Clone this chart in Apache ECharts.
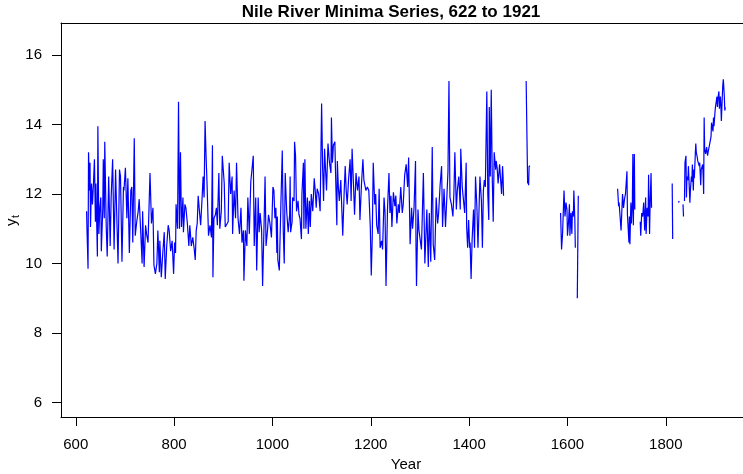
<!DOCTYPE html>
<html lang="en">
<head>
<meta charset="UTF-8">
<title>Nile River Minima Series, 622 to 1921</title>
<script src="https://cdn.jsdelivr.net/npm/echarts@6.0.0/dist/echarts.min.js"></script>
<style>
  html, body { margin: 0; padding: 0; background: #fff; }
  #main { width: 743px; height: 474px; }
</style>
</head>
<body>
<div id="main"></div>
<script>
// [year, minimum level], one array per unbroken stretch of record
var minima622 = [
  [622, 11.5], [623, 10.9], [625, 9.85], [626, 13.2], [628, 12.1], [629, 12.9], [630, 11.05], [632, 12.3],
  [634, 11.7], [636, 12.3], [638, 13.0], [640, 11.2], [641, 12.3], [644, 10.2], [645, 13.95], [647, 10.85],
  [649, 11.6], [651, 11.9], [652, 10.35], [655, 11.6], [656, 13.0], [658, 11.3], [659, 13.5], [662, 11.05],
  [664, 10.2], [667, 12.5], [670, 10.5], [672, 11.9], [675, 13.0], [678, 10.4], [681, 12.7], [683, 11.6],
  [686, 10.0], [689, 12.7], [691, 12.5], [694, 10.05], [697, 12.2], [698, 12.1], [701, 12.75], [704, 11.3],
  [706, 12.45], [709, 10.3], [712, 12.1], [714, 12.2], [716, 10.6], [719, 13.6], [721, 10.8], [724, 11.2],
  [727, 11.5], [729, 11.85], [732, 10.95], [735, 10.0], [736, 11.5], [739, 9.9], [742, 11.1], [744, 10.85],
  [747, 10.6], [751, 12.6], [754, 11.15], [757, 11.6], [759, 9.95], [762, 9.7], [765, 10.0], [767, 10.95],
  [770, 9.75], [771, 10.65], [774, 9.6], [777, 10.3], [780, 10.9], [782, 9.55], [785, 10.5], [788, 11.1],
  [790, 10.95], [793, 10.35], [796, 10.65], [799, 9.7], [801, 10.6], [803, 10.3], [804, 11.7], [807, 11.0],
  [809, 14.65], [811, 11.0], [813, 13.2], [815, 11.05], [818, 11.9], [819, 10.9], [822, 11.7], [824, 11.6],
  [827, 11.15], [830, 10.5], [832, 11.1], [835, 10.5], [838, 10.75], [841, 10.4], [843, 10.1], [845, 10.95],
  [847, 11.15], [849, 11.95], [851, 11.6], [854, 11.1], [857, 11.9], [859, 12.5], [861, 11.9], [863, 14.1],
  [865, 13.1], [867, 12.3], [869, 11.3], [870, 10.8], [873, 11.1], [876, 10.75], [878, 13.4], [879, 9.6],
  [881, 11.3], [884, 11.4], [886, 11.6], [888, 11.1], [891, 12.6], [893, 11.0], [896, 11.5], [898, 13.1],
  [900, 13.1], [902, 12.3], [904, 11.05], [907, 11.0], [910, 11.2], [912, 12.9], [915, 12.0], [918, 12.5],
  [919, 10.85], [922, 12.1], [925, 11.3], [927, 12.9], [930, 11.3], [933, 10.85], [936, 11.6], [938, 10.6],
  [941, 10.95], [942, 9.5], [945, 10.95], [948, 10.5], [950, 11.9], [953, 10.85], [956, 12.35], [959, 12.4],
  [961, 13.1], [963, 10.5], [966, 11.9], [968, 9.8], [971, 11.9], [973, 10.9], [975, 11.45], [978, 10.95],
  [980, 9.35], [983, 11.15], [985, 12.5], [987, 10.5], [990, 10.95], [992, 11.4], [995, 11.15], [998, 10.75],
  [1001, 12.2], [1003, 12.1], [1005, 11.3], [1007, 11.6], [1009, 10.3], [1010, 11.35], [1011, 10.1], [1014, 9.8],
  [1017, 11.6], [1020, 13.25], [1022, 10.95], [1024, 10.0], [1026, 12.6], [1029, 11.5], [1032, 10.9], [1035, 11.4],
  [1036, 12.5], [1037, 10.9], [1040, 11.2], [1041, 11.9], [1044, 11.8], [1045, 13.5], [1047, 13.1], [1049, 11.5],
  [1052, 11.8], [1054, 11.4], [1056, 11.3], [1059, 10.7], [1060, 12.0], [1063, 12.9], [1064, 11.0], [1066, 13.0],
  [1068, 11.0], [1071, 11.9], [1073, 10.85], [1075, 11.8], [1077, 11.05], [1079, 12.0], [1082, 11.5], [1085, 12.45],
  [1087, 12.1], [1089, 11.6], [1091, 12.15], [1094, 12.0], [1097, 11.5], [1100, 14.6], [1102, 12.8], [1104, 11.8],
  [1106, 13.3], [1108, 12.7], [1110, 12.1], [1113, 13.45], [1116, 12.9], [1119, 12.6], [1120, 14.2], [1122, 12.9],
  [1124, 13.4], [1127, 13.5], [1128, 12.8], [1131, 11.1], [1132, 12.95], [1134, 12.2], [1136, 11.8], [1139, 12.4],
  [1141, 11.6], [1143, 10.8], [1146, 12.1], [1148, 12.8], [1150, 12.1], [1152, 11.7], [1155, 12.45], [1158, 13.0],
  [1160, 11.8], [1162, 13.3], [1165, 12.2], [1167, 11.4], [1170, 12.6], [1173, 12.1], [1176, 12.5], [1178, 11.25],
  [1181, 12.25], [1184, 13.0], [1186, 12.4], [1188, 12.25], [1190, 12.1], [1193, 12.2], [1196, 12.1], [1199, 11.05],
  [1201, 9.65], [1203, 10.75], [1205, 12.9], [1208, 11.7], [1210, 12.0], [1212, 11.1], [1215, 10.85], [1217, 12.15],
  [1219, 10.45], [1222, 10.65], [1224, 10.4], [1227, 11.9], [1229, 11.45], [1231, 9.35], [1234, 11.55], [1237, 12.6],
  [1239, 11.45], [1241, 11.95], [1243, 11.05], [1246, 12.05], [1249, 11.65], [1251, 11.95], [1253, 11.15], [1256, 11.7],
  [1258, 11.45], [1261, 12.2], [1264, 11.45], [1266, 11.7], [1269, 12.55], [1272, 12.85], [1275, 12.2], [1277, 13.05],
  [1280, 10.55], [1283, 11.6], [1285, 11.0], [1288, 11.6], [1291, 12.95], [1292, 10.45], [1293, 9.35], [1296, 11.55],
  [1298, 10.95], [1303, 10.4], [1307, 12.6], [1310, 10.0], [1314, 11.55], [1317, 9.9], [1319, 11.45], [1322, 10.05],
  [1325, 13.35], [1327, 10.55], [1330, 10.1], [1333, 11.9], [1336, 11.15], [1338, 11.45], [1341, 12.25], [1344, 12.8],
  [1346, 11.05], [1349, 12.15], [1352, 11.05], [1355, 12.0], [1357, 12.65], [1359, 15.25], [1361, 11.9], [1364, 11.7],
  [1367, 11.35], [1369, 12.0], [1371, 13.2], [1374, 11.55], [1376, 12.1], [1379, 12.5], [1382, 11.55], [1383, 13.3],
  [1386, 12.2], [1388, 11.9], [1391, 11.45], [1394, 12.9], [1395, 11.05], [1397, 10.45], [1399, 11.25], [1401, 10.45],
  [1402, 10.6], [1404, 9.55], [1406, 10.65], [1409, 11.55], [1411, 10.45], [1413, 12.5], [1416, 11.55], [1418, 10.45],
  [1420, 10.4], [1422, 12.5], [1425, 11.8], [1427, 10.45], [1429, 12.1], [1431, 12.4], [1433, 12.2], [1436, 14.95],
  [1438, 12.0], [1440, 11.25], [1441, 14.5], [1443, 12.5], [1445, 15.0], [1447, 12.5], [1449, 11.2], [1451, 13.2],
  [1454, 12.7], [1455, 12.95], [1457, 12.75], [1459, 12.3], [1462, 12.85], [1464, 12.9], [1466, 12.0], [1468, 12.8],
  [1469, 12.5], [1470, 11.95]
];
var minima1516 = [[1516, 15.25], [1519, 12.3], [1520, 12.4], [1521, 12.25], [1522, 12.8], [1524, 12.8]];
var minima1586 = [
  [1586, 11.45], [1588, 10.4], [1590, 10.85], [1592, 10.9], [1593, 12.1], [1595, 11.35], [1597, 11.75], [1599, 11.55],
  [1600, 10.8], [1602, 11.15], [1604, 11.7], [1605, 10.8], [1607, 11.45], [1609, 10.85], [1610, 11.5], [1612, 11.35],
  [1613, 12.1], [1615, 11.25], [1616, 10.45]
];
var minima1620 = [[1620, 9.0], [1622, 11.95]];
var minima1702 = [
  [1702, 12.15], [1704, 11.65], [1705, 11.75], [1707, 11.35], [1709, 10.95], [1712, 12.0], [1714, 11.6], [1716, 11.85],
  [1718, 12.0], [1719, 12.05], [1721, 12.65], [1722, 11.4], [1723, 11.35], [1725, 10.6], [1726, 11.35], [1727, 10.55],
  [1729, 11.75], [1730, 11.15], [1732, 11.75], [1733, 13.15], [1734, 11.1], [1736, 13.15], [1737, 11.55]
];
var minima1748 = [
  [1748, 11.2], [1749, 10.8], [1751, 11.45], [1753, 11.35], [1755, 11.75], [1757, 10.95], [1759, 11.9], [1760, 10.85],
  [1762, 11.6], [1764, 11.35], [1765, 12.55], [1767, 10.85], [1768, 11.65], [1770, 12.6], [1771, 11.6]
];
var minima1813 = [[1813, 12.3], [1814, 10.7]];
var minima1826 = [[1826, 11.75], [1827, 11.8]];
var minima1835 = [[1835, 11.7], [1836, 11.35]];
var minima1838 = [
  [1838, 11.8], [1839, 12.9], [1841, 13.1], [1842, 11.9], [1843, 12.5], [1845, 12.4], [1846, 12.8], [1847, 12.45],
  [1849, 11.75], [1850, 12.1], [1852, 12.5], [1853, 12.35], [1854, 12.85], [1856, 12.1], [1857, 12.7], [1858, 12.45],
  [1860, 13.15], [1861, 13.45], [1862, 13.2], [1864, 13.05], [1865, 12.95], [1866, 13.0], [1868, 12.8], [1869, 12.9],
  [1871, 12.25], [1872, 12.7], [1873, 12.7], [1875, 12.85], [1876, 12.5], [1877, 12.0], [1878, 14.2], [1879, 13.3],
  [1881, 13.15], [1882, 13.25], [1883, 13.35], [1885, 13.1], [1886, 13.2], [1887, 13.15], [1889, 13.25], [1890, 13.5],
  [1892, 13.65], [1893, 14.05], [1894, 14.1], [1896, 13.8], [1897, 14.2], [1898, 13.95], [1900, 14.35], [1901, 14.5],
  [1902, 14.6], [1904, 14.8], [1905, 14.5], [1906, 14.75], [1908, 14.95], [1909, 14.45], [1911, 14.8], [1912, 14.55],
  [1913, 14.1], [1915, 14.85], [1916, 15.15], [1917, 15.3], [1919, 14.8], [1920, 14.4], [1921, 14.5]
];

var xTicks = [600, 800, 1000, 1200, 1400, 1600, 1800];
var yTicks = [6, 8, 10, 12, 14, 16];

var segments = [minima622, minima1516, minima1586, minima1620, minima1702,
                minima1748, minima1813, minima1826, minima1835, minima1838];

var font = 'Liberation Sans, Arial, Helvetica, sans-serif';

var chart = echarts.init(document.getElementById('main'));

var series = segments.map(function (seg) {
    return {
        type: 'line',
        data: seg,
        symbol: 'none',
        silent: true,
        lineStyle: { color: '#0000ff', width: 1.2 },
        itemStyle: { color: '#0000ff' }
    };
});

// the plot is cut off on the right, so the frame has no right edge
chart.setOption({
    animation: false,
    backgroundColor: '#fff',
    grid: { left: 61, right: 0, top: 23, bottom: 57 },
    xAxis: [{
        type: 'value',
        min: 570,
        max: 1957,
        splitLine: { show: false },
        axisLine: { show: true, onZero: false, lineStyle: { color: '#000', width: 1 } },
        axisTick: { show: true, length: 9, customValues: xTicks, lineStyle: { color: '#000' } },
        axisLabel: {
            customValues: xTicks, margin: 20, color: '#000', fontSize: 15, fontFamily: font,
            formatter: function (v) { return String(v); }
        }
    }, {
        type: 'value',
        position: 'top',
        min: 570,
        max: 1957,
        splitLine: { show: false },
        axisLine: { show: true, onZero: false, lineStyle: { color: '#000', width: 1 } },
        axisTick: { show: false },
        axisLabel: { show: false }
    }],
    yAxis: {
        type: 'value',
        min: 5.58,
        max: 16.92,
        splitLine: { show: false },
        axisLine: { show: true, onZero: false, lineStyle: { color: '#000', width: 1 } },
        axisTick: { show: true, length: 9, customValues: yTicks, lineStyle: { color: '#000' } },
        axisLabel: { customValues: yTicks, margin: 19, color: '#000', fontSize: 15, fontFamily: font }
    },
    series: series,
    graphic: [
        {
            type: 'text', x: 391, y: 12,
            style: {
                text: 'Nile River Minima Series, 622 to 1921',
                textAlign: 'center', textVerticalAlign: 'middle',
                font: 'bold 17px ' + font, fill: '#000'
            }
        },
        {
            type: 'text', x: 406, y: 465,
            style: {
                text: 'Year', textAlign: 'center', textVerticalAlign: 'middle',
                font: '15px ' + font, fill: '#000'
            }
        },
        {
            type: 'group', x: 12, y: 220, rotation: Math.PI / 2,
            children: [
                { type: 'text', x: -6, y: 0,
                  style: { text: 'y', textAlign: 'left', textVerticalAlign: 'middle', font: '15px ' + font, fill: '#000' } },
                { type: 'text', x: 2, y: 4,
                  style: { text: 't', textAlign: 'left', textVerticalAlign: 'middle', font: '11px ' + font, fill: '#000' } }
            ]
        }
    ]
});
</script>
</body>
</html>
